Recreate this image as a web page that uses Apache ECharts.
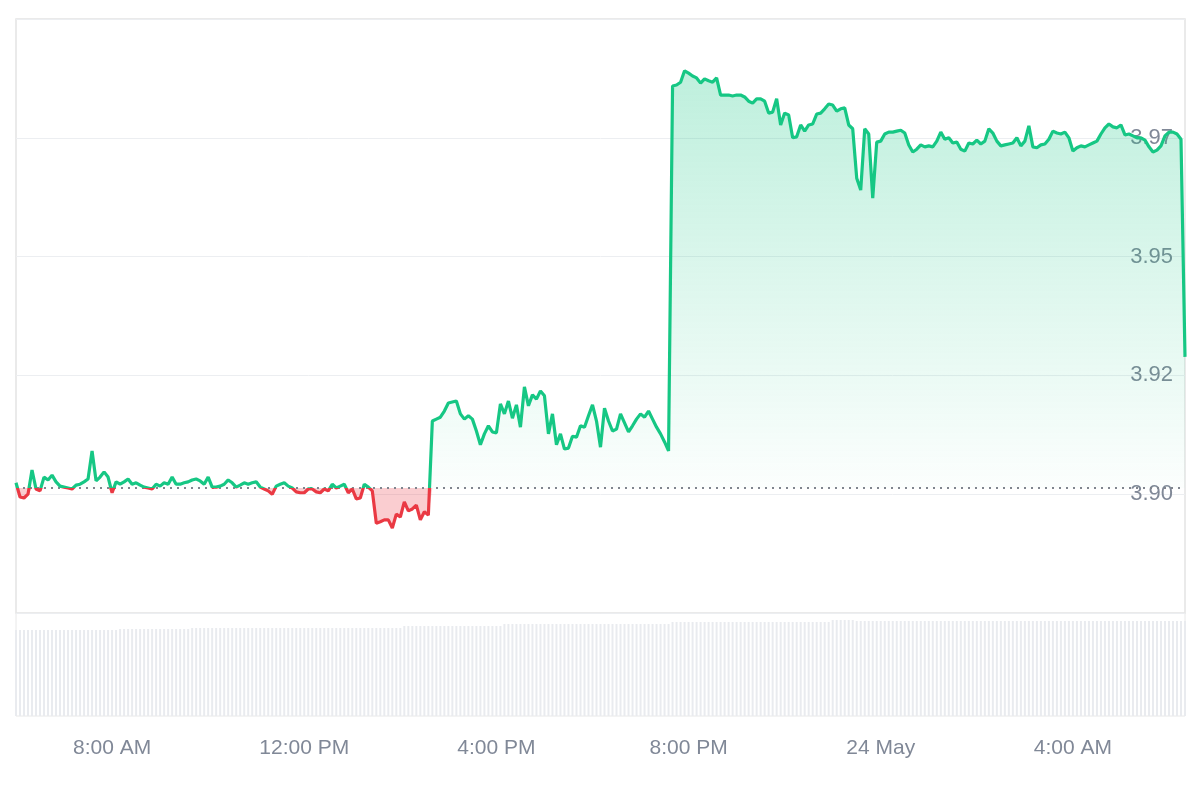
<!DOCTYPE html>
<html>
<head>
<meta charset="utf-8">
<script src="https://cdn.jsdelivr.net/npm/echarts@6/dist/echarts.min.js"></script>
<style>
html,body{margin:0;padding:0;background:#fff;}
#chart{width:1200px;height:800px;}
</style>
</head>
<body>
<div id="chart"></div>
<script>
// Time: minutes from 00:00, 23 May; one point every 5 minutes from 6:00 AM
const START_MINUTE = 360;
const STEP_MINUTES = 5;
const END_MINUTE = 1820;
const BASE_PRICE = 3.9013;

const prices = [
  3.9024,3.8994,3.8992,3.9000,3.9051,3.9011,3.9007,3.9036,3.9030,3.9040,
  3.9026,3.9017,3.9015,3.9013,3.9011,3.9019,3.9021,3.9026,3.9032,3.9091,
  3.9028,3.9036,3.9047,3.9036,3.9003,3.9026,3.9021,3.9026,3.9032,3.9021,
  3.9024,3.9019,3.9015,3.9013,3.9011,3.9021,3.9017,3.9024,3.9021,3.9036,
  3.9021,3.9021,3.9024,3.9026,3.9030,3.9032,3.9028,3.9021,3.9036,3.9015,
  3.9015,3.9017,3.9021,3.9030,3.9024,3.9015,3.9019,3.9024,3.9021,3.9024,
  3.9026,3.9015,3.9011,3.9007,3.9000,3.9017,3.9021,3.9024,3.9017,3.9013,
  3.9005,3.9003,3.9003,3.9011,3.9011,3.9005,3.9003,3.9011,3.9007,3.9021,
  3.9013,3.9017,3.9021,3.9003,3.9011,3.8990,3.8992,3.9021,3.9015,3.9007,
  3.8939,3.8942,3.8946,3.8946,3.8929,3.8958,3.8952,3.8984,3.8965,3.8969,
  3.8977,3.8946,3.8963,3.8956,3.9154,3.9158,3.9162,3.9175,3.9192,3.9194,
  3.9196,3.9169,3.9158,3.9165,3.9158,3.9133,3.9104,3.9127,3.9144,3.9131,
  3.9129,3.9190,3.9169,3.9196,3.9160,3.9188,3.9141,3.9226,3.9186,3.9209,
  3.9200,3.9217,3.9207,3.9127,3.9169,3.9104,3.9127,3.9095,3.9097,3.9122,
  3.9120,3.9144,3.9141,3.9165,3.9188,3.9154,3.9099,3.9181,3.9154,3.9133,
  3.9137,3.9169,3.9150,3.9131,3.9144,3.9158,3.9169,3.9162,3.9175,3.9158,
  3.9141,3.9127,3.9110,3.9091,3.9859,3.9861,3.9867,3.9891,3.9886,3.9880,
  3.9876,3.9865,3.9874,3.9870,3.9867,3.9876,3.9840,3.9840,3.9840,3.9838,
  3.9840,3.9840,3.9836,3.9827,3.9823,3.9832,3.9832,3.9827,3.9802,3.9804,
  3.9832,3.9777,3.9802,3.9798,3.9750,3.9752,3.9777,3.9764,3.9777,3.9779,
  3.9800,3.9802,3.9811,3.9821,3.9819,3.9806,3.9811,3.9813,3.9777,3.9769,
  3.9665,3.9640,3.9769,3.9758,3.9623,3.9741,3.9743,3.9758,3.9762,3.9762,
  3.9764,3.9766,3.9760,3.9735,3.9720,3.9726,3.9735,3.9731,3.9733,3.9731,
  3.9743,3.9762,3.9747,3.9750,3.9739,3.9741,3.9726,3.9722,3.9739,3.9737,
  3.9745,3.9737,3.9743,3.9769,3.9760,3.9743,3.9733,3.9735,3.9737,3.9739,
  3.9750,3.9733,3.9743,3.9775,3.9731,3.9729,3.9735,3.9737,3.9747,3.9764,
  3.9760,3.9758,3.9762,3.9750,3.9722,3.9729,3.9733,3.9731,3.9735,3.9739,
  3.9743,3.9758,3.9771,3.9779,3.9773,3.9771,3.9777,3.9756,3.9758,3.9754,
  3.9750,3.9750,3.9745,3.9731,3.9720,3.9724,3.9733,3.9754,3.9762,3.9762,
  3.9758,3.9747,3.9289
];

const volumes = [
  86,86,86,86,86,86,86,86,86,86,
  86,86,86,86,86,86,86,86,86,86,
  86,86,86,86,86,86,87,87,87,87,
  87,87,87,87,87,87,87,87,87,87,
  87,87,87,87,88,88,88,88,88,88,
  88,88,88,88,88,88,88,88,88,88,
  88,88,88,88,88,88,88,88,88,88,
  88,88,88,88,88,88,88,88,88,88,
  88,88,88,88,88,88,88,88,88,88,
  88,88,88,88,88,88,88,90,90,90,
  90,90,90,90,90,90,90,90,90,90,
  90,90,90,90,90,90,90,90,90,90,
  90,90,92,92,92,92,92,92,92,92,
  92,92,92,92,92,92,92,92,92,92,
  92,92,92,92,92,92,92,92,92,92,
  92,92,92,92,92,92,92,92,92,92,
  92,92,92,92,94,94,94,94,94,94,
  94,94,94,94,94,94,94,94,94,94,
  94,94,94,94,94,94,94,94,94,94,
  94,94,94,94,94,94,94,94,94,94,
  94,94,94,94,96,96,96,96,96,96,
  95,95,95,95,95,95,95,95,95,95,
  95,95,95,95,95,95,95,95,95,95,
  95,95,95,95,95,95,95,95,95,95,
  95,95,95,95,95,95,95,95,95,95,
  95,95,95,95,95,95,95,95,95,95,
  95,95,95,95,95,95,95,95,95,95,
  95,95,95,95,95,95,95,95,95,95,
  95,95,95,95,95,95,95,95,95,95,
  95,95,95
];

const xTickValues = [480, 720, 960, 1200, 1440, 1680];
const xTickLabels = ['8:00 AM', '12:00 PM', '4:00 PM', '8:00 PM', '24 May', '4:00 AM'];

const GREEN = '#16c784';
const RED = '#ea3943';
const LABEL_COLOR = '#808897';
const FONT = '"Liberation Sans", Arial, Helvetica, sans-serif';

const times = prices.map((_, i) => START_MINUTE + i * STEP_MINUTES);
const priceData = prices.map((p, i) => [times[i], p]);
const upData = prices.map((p, i) => [times[i], Math.max(p, BASE_PRICE)]);
const downData = prices.map((p, i) => [times[i], Math.min(p, BASE_PRICE)]);
const volumeData = volumes.map((v, i) => [times[i], v]);

const chart = echarts.init(document.getElementById('chart'));
chart.setOption({
  animation: false,
  grid: [
    { left: 16, right: 15, top: 19, bottom: 187, show: true, borderColor: '#e4e4e4', borderWidth: 1.5 },
    { left: 16, right: 15, top: 613, bottom: 84, show: true, borderColor: '#e8e8e8', borderWidth: 1 }
  ],
  xAxis: [
    {
      type: 'value', gridIndex: 0, min: START_MINUTE, max: END_MINUTE, interval: 60,
      axisLine: { show: false }, axisTick: { show: false }, axisLabel: { show: false }, splitLine: { show: false }
    },
    {
      type: 'value', gridIndex: 1, min: START_MINUTE, max: END_MINUTE, interval: 60,
      axisLine: { show: false }, axisTick: { show: false }, splitLine: { show: false },
      axisLabel: {
        fontSize: 21, color: LABEL_COLOR, margin: 22, fontFamily: FONT,
        showMinLabel: false, showMaxLabel: false,
        formatter: function (v) {
          const k = xTickValues.indexOf(Math.round(v));
          return k >= 0 ? xTickLabels[k] : '';
        }
      }
    }
  ],
  yAxis: [
    {
      type: 'value', gridIndex: 0, position: 'right', min: 3.875, max: 4.0, interval: 0.025,
      axisLine: { show: false }, axisTick: { show: false },
      splitLine: { show: true, lineStyle: { color: '#eceef1', width: 1 } },
      axisLabel: {
        inside: true, margin: 12, fontSize: 22, color: LABEL_COLOR, fontFamily: FONT,
        showMinLabel: false, showMaxLabel: false,
        formatter: function (v) { return (Math.floor(v * 100 + 1e-6) / 100).toFixed(2); }
      }
    },
    { type: 'value', gridIndex: 1, min: 0, max: 103, show: false, splitLine: { show: false } }
  ],
  visualMap: {
    show: false, type: 'piecewise', seriesIndex: 0, dimension: 1,
    pieces: [
      { gte: 3.5, lt: BASE_PRICE, color: RED },
      { gte: BASE_PRICE, lte: 4.5, color: GREEN }
    ]
  },
  series: [
    {
      name: 'Price', type: 'line', xAxisIndex: 0, yAxisIndex: 0, data: priceData,
      showSymbol: false, z: 5, lineStyle: { width: 3.2 },
      markLine: {
        silent: true, symbol: ['none', 'none'], label: { show: false }, precision: 4,
        lineStyle: { type: [2, 5], color: '#80858e', width: 1.8 },
        data: [{ yAxis: BASE_PRICE }]
      }
    },
    {
      name: 'Up area', type: 'line', xAxisIndex: 0, yAxisIndex: 0, data: upData,
      showSymbol: false, silent: true, z: 2, lineStyle: { width: 0, opacity: 0 },
      areaStyle: {
        origin: BASE_PRICE,
        color: new echarts.graphic.LinearGradient(0, 0, 0, 1, [
          { offset: 0, color: 'rgba(22,199,132,0.40)' },
          { offset: 1, color: 'rgba(22,199,132,0.02)' }
        ])
      }
    },
    {
      name: 'Down area', type: 'line', xAxisIndex: 0, yAxisIndex: 0, data: downData,
      showSymbol: false, silent: true, z: 2, lineStyle: { width: 0, opacity: 0 },
      areaStyle: { origin: BASE_PRICE, color: 'rgba(234,57,67,0.36)' }
    },
    {
      name: 'Volume', type: 'bar', xAxisIndex: 1, yAxisIndex: 1, data: volumeData,
      barWidth: 2, silent: true, itemStyle: { color: '#e9ebef' }
    }
  ]
});
</script>
</body>
</html>
